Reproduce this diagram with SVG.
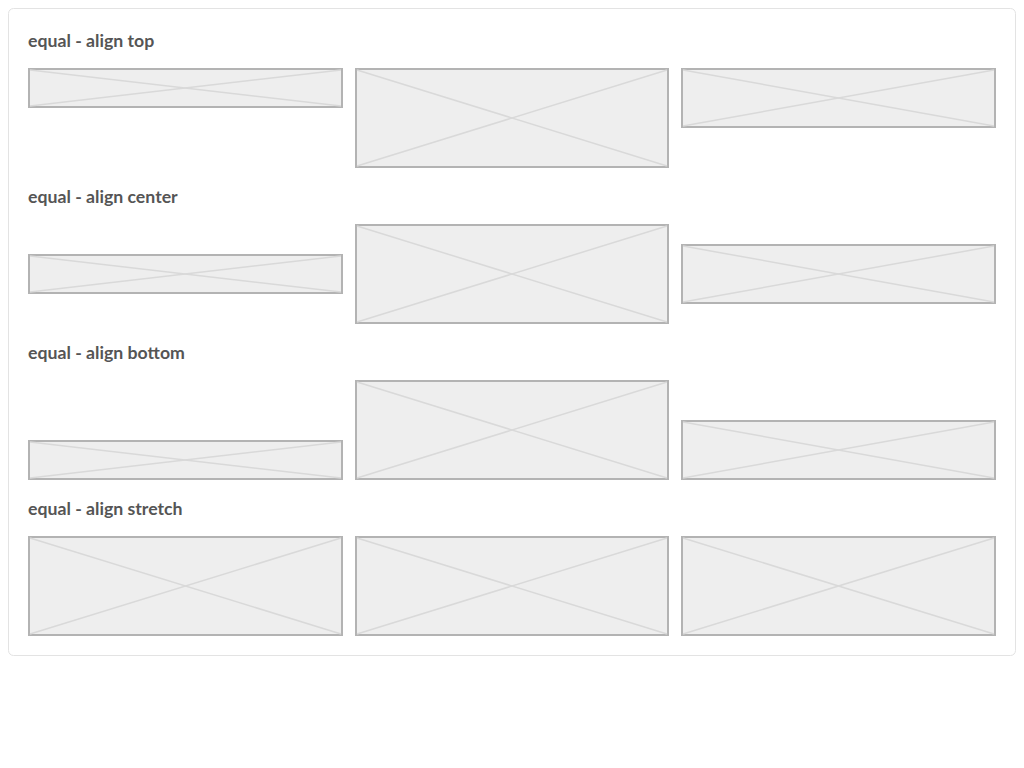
<svg xmlns="http://www.w3.org/2000/svg" width="1024" height="768" viewBox="0 0 1024 768">
<style>
.card{fill:#fff;stroke:#e3e3e3;stroke-width:1}
.t{font-family:Lato,"Liberation Sans",sans-serif;font-weight:bold;font-size:17.7px;fill:#555}
.b rect{fill:#eee;stroke:#b3b3b3;stroke-width:2}
.b line{stroke:#d9d9d9;stroke-width:1.5}
</style>
<rect width="1024" height="768" fill="#fff"/>
<rect class="card" x="8.5" y="8.5" width="1007" height="647" rx="5"/>
<text class="t" x="28" y="47">equal - align top</text>
<text class="t" x="28" y="203">equal - align center</text>
<text class="t" x="28" y="359">equal - align bottom</text>
<text class="t" x="28" y="515">equal - align stretch</text>
<g id="r1b1" class="b"><rect x="29" y="69" width="313" height="38"/><line x1="30" y1="70" x2="341" y2="106"/><line x1="30" y1="106" x2="341" y2="70"/></g>
<g id="r1b2" class="b"><rect x="356" y="69" width="312" height="98"/><line x1="357" y1="70" x2="667" y2="166"/><line x1="357" y1="166" x2="667" y2="70"/></g>
<g id="r1b3" class="b"><rect x="682" y="69" width="313" height="58"/><line x1="683" y1="70" x2="994" y2="126"/><line x1="683" y1="126" x2="994" y2="70"/></g>
<g id="r2b1" class="b"><rect x="29" y="255" width="313" height="38"/><line x1="30" y1="256" x2="341" y2="292"/><line x1="30" y1="292" x2="341" y2="256"/></g>
<g id="r2b2" class="b"><rect x="356" y="225" width="312" height="98"/><line x1="357" y1="226" x2="667" y2="322"/><line x1="357" y1="322" x2="667" y2="226"/></g>
<g id="r2b3" class="b"><rect x="682" y="245" width="313" height="58"/><line x1="683" y1="246" x2="994" y2="302"/><line x1="683" y1="302" x2="994" y2="246"/></g>
<g id="r3b1" class="b"><rect x="29" y="441" width="313" height="38"/><line x1="30" y1="442" x2="341" y2="478"/><line x1="30" y1="478" x2="341" y2="442"/></g>
<g id="r3b2" class="b"><rect x="356" y="381" width="312" height="98"/><line x1="357" y1="382" x2="667" y2="478"/><line x1="357" y1="478" x2="667" y2="382"/></g>
<g id="r3b3" class="b"><rect x="682" y="421" width="313" height="58"/><line x1="683" y1="422" x2="994" y2="478"/><line x1="683" y1="478" x2="994" y2="422"/></g>
<g id="r4b1" class="b"><rect x="29" y="537" width="313" height="98"/><line x1="30" y1="538" x2="341" y2="634"/><line x1="30" y1="634" x2="341" y2="538"/></g>
<g id="r4b2" class="b"><rect x="356" y="537" width="312" height="98"/><line x1="357" y1="538" x2="667" y2="634"/><line x1="357" y1="634" x2="667" y2="538"/></g>
<g id="r4b3" class="b"><rect x="682" y="537" width="313" height="98"/><line x1="683" y1="538" x2="994" y2="634"/><line x1="683" y1="634" x2="994" y2="538"/></g>
<g id="connectors"/>
</svg>
